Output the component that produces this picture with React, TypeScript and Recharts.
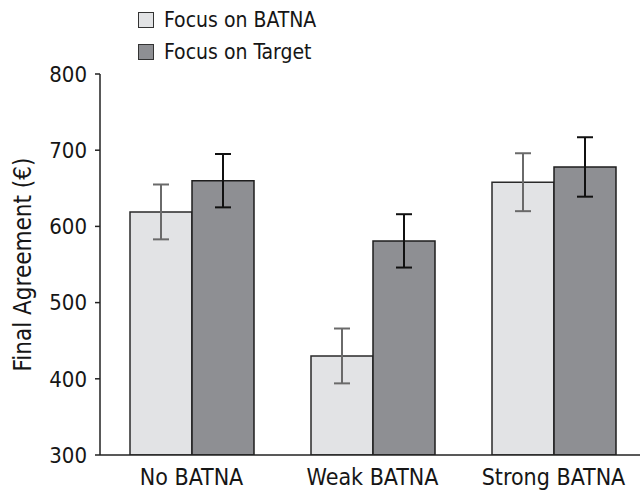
import { BarChart, Bar, XAxis, YAxis, ErrorBar, Legend } from "recharts";

// values (euros)
const conditions = ["No BATNA", "Weak BATNA", "Strong BATNA"];
const focusBatna = [619, 430, 658];
const focusBatnaErr = [36, 36, 38];
const focusTarget = [660, 581, 678];
const focusTargetErr = [35, 35, 39];
const yTicks = [300, 400, 500, 600, 700, 800];

const data = conditions.map((c, i) => ({
  condition: c,
  batna: focusBatna[i],
  batnaErr: focusBatnaErr[i],
  target: focusTarget[i],
  targetErr: focusTargetErr[i],
}));

const FONT = "'DejaVu Sans Condensed', 'Liberation Sans Narrow', Roboto, sans-serif";
const INK = "#161616";

function LegendBox({ payload }: any) {
  return (
    <div style={{ fontFamily: FONT, fontSize: 21, color: INK }}>
      {(payload || []).map((p: any) => (
        <div key={p.value} style={{ display: "flex", alignItems: "center", height: 32 }}>
          <span
            style={{
              display: "inline-block",
              width: 14,
              height: 14,
              background: p.color,
              border: "1.5px solid #333",
              marginRight: 10,
            }}
          />
          {p.value}
        </div>
      ))}
    </div>
  );
}

export default function App() {
  return (
    <div style={{ position: "absolute", left: 0, top: 0, width: 640, height: 495, overflow: "hidden", background: "#fff" }}>
      <BarChart
        width={644}
        height={495}
        data={data}
        margin={{ top: 74, right: 0, bottom: 0, left: 0 }}
        barCategoryGap={29}
        barGap={0}
      >
        <XAxis
          dataKey="condition"
          height={40}
          tickLine={false}
          axisLine={{ stroke: "#222", strokeWidth: 1.5 }}
          tick={{ fill: INK, fontFamily: FONT, fontSize: 23 }}
          tickMargin={8}
          padding={{ left: 1, right: 0 }}
        />
        <YAxis
          width={100}
          domain={[300, 800]}
          ticks={yTicks}
          allowDataOverflow
          tickSize={5}
          tickMargin={8}
          axisLine={{ stroke: "#222", strokeWidth: 1.5 }}
          tickLine={{ stroke: "#222", strokeWidth: 1.5 }}
          tick={{ fill: INK, fontFamily: FONT, fontSize: 22 }}
          label={{
            value: "Final Agreement (€)",
            angle: -90,
            position: "insideLeft",
            offset: 22,
            style: { textAnchor: "middle", fill: INK, fontFamily: FONT, fontSize: 24 },
          }}
        />
        <Legend
          verticalAlign="middle"
          align="center"
          layout="horizontal"
          content={LegendBox}
          wrapperStyle={{ position: "absolute", top: 4, left: 138, width: 300 }}
        />
        <Bar dataKey="batna" name="Focus on BATNA" fill="#e2e3e5" stroke="#2a2a2a" strokeWidth={1.5} isAnimationActive={false}>
          <ErrorBar dataKey="batnaErr" width={8} stroke="#6a6a6a" strokeWidth={2} isAnimationActive={false} />
        </Bar>
        <Bar dataKey="target" name="Focus on Target" fill="#8e8f93" stroke="#1e1e1e" strokeWidth={1.5} isAnimationActive={false}>
          <ErrorBar dataKey="targetErr" width={8} stroke="#111" strokeWidth={2} isAnimationActive={false} />
        </Bar>
      </BarChart>
    </div>
  );
}
